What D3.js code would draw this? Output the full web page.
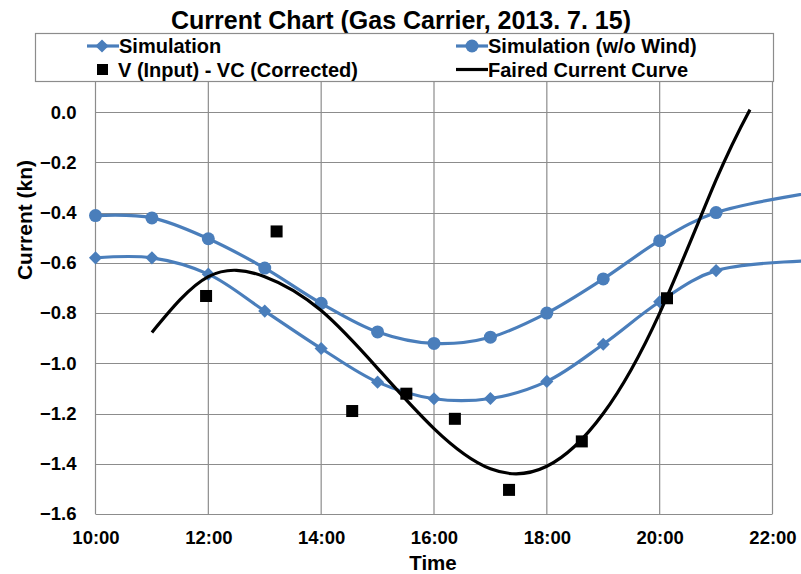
<!DOCTYPE html>
<html>
<head>
<meta charset="utf-8">
<script src="https://cdn.jsdelivr.net/npm/d3@7"></script>
<style>
  body { margin: 0; background: #fff; }
  svg { font-family: "Liberation Sans", Arial, sans-serif; font-weight: bold; }
</style>
</head>
<body>
<svg width="801" height="574"></svg>
<script>
// data (time in hours)
const simTimes = [10, 11, 12, 13, 14, 15, 16, 17, 18, 19, 20, 21, 23];
const simulation = [-0.58, -0.58, -0.645, -0.792, -0.941, -1.075, -1.141, -1.14, -1.072, -0.924, -0.755, -0.631, -0.59];
const simNoWind = [-0.412, -0.421, -0.504, -0.621, -0.761, -0.875, -0.921, -0.896, -0.80, -0.664, -0.512, -0.40, -0.31];
const markerTimes = [10, 11, 12, 13, 14, 15, 16, 17, 18, 19, 20, 21];

const obsTimes = [11.96, 13.21, 14.55, 15.51, 16.37, 17.33, 18.62, 20.13];
const obsValues = [-0.732, -0.475, -1.19, -1.121, -1.221, -1.504, -1.311, -0.741];

const fairTimes = [11, 12, 13, 14, 15, 16, 17, 18, 19, 20, 21, 21.6];
const fairValues = [-0.877, -0.655, -0.655, -0.79, -1.02, -1.26, -1.42, -1.41, -1.2, -0.8, -0.27, 0.01];

const xTicks = [10, 12, 14, 16, 18, 20, 22];
const yTicks = [0, -0.2, -0.4, -0.6, -0.8, -1.0, -1.2, -1.4, -1.6];

const blue = '#4a7ebb';
const gridColor = '#8c8c8c';
const fontFam = '"Liberation Sans", Arial, sans-serif';

const svg = d3.select('svg');
const x = d3.scaleLinear().domain([10, 22]).range([95.5, 772.5]);
const y = d3.scaleLinear().domain([-1.6, 0.12]).range([514, 82]);

// grid
const grid = svg.append('g');
grid.selectAll('.hg')
  .data(yTicks)
  .enter().append('line')
  .attr('x1', x(10)).attr('x2', x(22))
  .attr('y1', d => Math.round(y(d)) + 0.5).attr('y2', d => Math.round(y(d)) + 0.5)
  .attr('stroke', gridColor).attr('stroke-width', 1.2);
grid.selectAll('.vg')
  .data(xTicks)
  .enter().append('line')
  .attr('x1', d => x(d)).attr('x2', d => x(d))
  .attr('y1', y(0.12)).attr('y2', y(-1.6))
  .attr('stroke', gridColor).attr('stroke-width', 1.2);

// axes
const yAxis = svg.append('g')
  .attr('transform', `translate(${x(10)},0)`)
  .call(d3.axisLeft(y).tickValues(yTicks).tickSize(0).tickPadding(19).tickFormat(d3.format('.1f')));
yAxis.select('.domain').remove();
yAxis.selectAll('text').attr('font-size', 18.5).attr('font-family', fontFam).attr('fill', '#000');

const xAxis = svg.append('g')
  .attr('transform', `translate(0,${y(-1.6)})`)
  .call(d3.axisBottom(x).tickValues(xTicks).tickSize(0).tickPadding(17)
    .tickFormat(d => d + ':00'));
xAxis.select('.domain').remove();
xAxis.selectAll('text').attr('font-size', 18.5).attr('font-family', fontFam).attr('fill', '#000');

// axis titles
svg.append('text')
  .attr('x', 433).attr('y', 570)
  .attr('text-anchor', 'middle').attr('font-size', 20.5)
  .text('Time');
svg.append('text')
  .attr('transform', 'translate(32,220) rotate(-90)')
  .attr('text-anchor', 'middle').attr('font-size', 21)
  .text('Current (kn)');

// series lines
const line = d3.line().curve(d3.curveCatmullRom.alpha(0.5));
const fairLine = d3.line().curve(d3.curveNatural);

function seriesPts(vals) {
  return simTimes.map((t, i) => [x(t), y(vals[i])]);
}

svg.append('path')
  .attr('d', line(seriesPts(simulation)))
  .attr('fill', 'none').attr('stroke', blue).attr('stroke-width', 3.2);
svg.append('path')
  .attr('d', line(seriesPts(simNoWind)))
  .attr('fill', 'none').attr('stroke', blue).attr('stroke-width', 3.2);

const diamond = d3.symbol().type(d3.symbolDiamond2).size(110);
svg.selectAll('.dm')
  .data(markerTimes)
  .enter().append('path')
  .attr('d', diamond)
  .attr('transform', (d, i) => `translate(${x(d)},${y(simulation[i])})`)
  .attr('fill', blue);

svg.selectAll('.cm')
  .data(markerTimes)
  .enter().append('circle')
  .attr('cx', d => x(d)).attr('cy', (d, i) => y(simNoWind[i]))
  .attr('r', 6.5)
  .attr('fill', blue);

// faired curve
svg.append('path')
  .attr('d', fairLine(fairTimes.map((t, i) => [x(t), y(fairValues[i])])))
  .attr('fill', 'none').attr('stroke', '#000').attr('stroke-width', 3.2);

// observed points
svg.selectAll('.sq')
  .data(obsTimes)
  .enter().append('rect')
  .attr('x', d => x(d) - 6).attr('y', (d, i) => y(obsValues[i]) - 6)
  .attr('width', 12).attr('height', 12)
  .attr('fill', '#000');

// title
svg.append('text')
  .attr('x', 401).attr('y', 29)
  .attr('text-anchor', 'middle').attr('font-size', 25)
  .text('Current Chart (Gas Carrier, 2013. 7. 15)');

// legend
const lg = svg.append('g');
lg.append('rect')
  .attr('x', 35.5).attr('y', 33.5).attr('width', 738).attr('height', 48)
  .attr('fill', '#fff').attr('stroke', gridColor).attr('stroke-width', 1.2);

const legendItems = [
  { label: 'Simulation', kind: 'diamond', lx: 87, ly: 46 },
  { label: 'Simulation (w/o Wind)', kind: 'circle', lx: 456, ly: 46 },
  { label: 'V (Input) - VC (Corrected)', kind: 'square', lx: 87, ly: 69.5 },
  { label: 'Faired Current Curve', kind: 'line', lx: 456, ly: 69.5 }
];
legendItems.forEach(it => {
  if (it.kind !== 'square') {
    lg.append('line')
      .attr('x1', it.lx).attr('x2', it.lx + 32)
      .attr('y1', it.ly).attr('y2', it.ly)
      .attr('stroke', it.kind === 'line' ? '#000' : blue).attr('stroke-width', 3.2);
  }
  if (it.kind === 'diamond') {
    lg.append('path').attr('d', diamond)
      .attr('transform', `translate(${it.lx + 15},${it.ly})`).attr('fill', blue);
  } else if (it.kind === 'circle') {
    lg.append('circle').attr('cx', it.lx + 16).attr('cy', it.ly).attr('r', 6.5).attr('fill', blue);
  } else if (it.kind === 'square') {
    lg.append('rect').attr('x', it.lx + 10).attr('y', it.ly - 5.5)
      .attr('width', 11).attr('height', 11).attr('fill', '#000');
  }
  lg.append('text')
    .attr('x', it.lx + (it.kind === 'square' ? 31 : 32)).attr('y', it.ly + 7)
    .attr('font-size', 20)
    .text(it.label);
});
</script>
</body>
</html>
